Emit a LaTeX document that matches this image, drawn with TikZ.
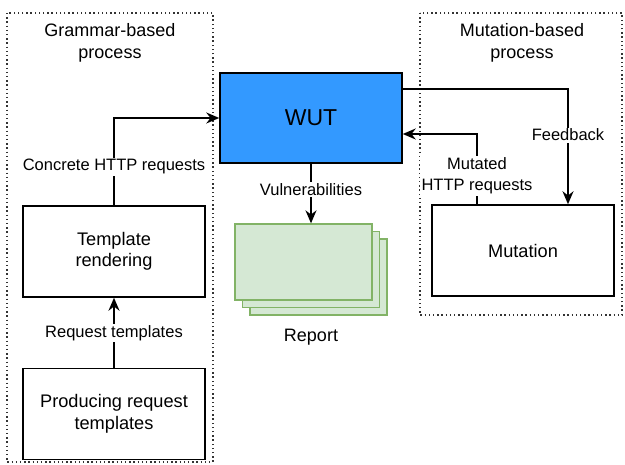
\documentclass[tikz,border=0pt]{standalone}
\usepackage{fontspec}
\setmainfont{Liberation Sans}
\usetikzlibrary{arrows.meta,shadows,calc}
\definecolor{wutblue}{RGB}{51,153,255}
\definecolor{repgreen}{RGB}{213,232,212}
\definecolor{repline}{RGB}{130,179,102}
\tikzstyle{blk} = [draw=black, line width=1.5pt, minimum width=182pt, minimum height=91pt, align=center, font=\fontsize{18.2}{21.5}\selectfont]
\tikzstyle{arrow} = [line width=1.5pt, -{Stealth[length=13pt,width=11pt]}]
\tikzstyle{lbl} = [fill=white, inner sep=1.5pt, align=center, font=\fontsize{16.5}{21}\selectfont]
\tikzstyle{title} = [lbl, font=\fontsize{18}{21.5}\selectfont]
\tikzstyle{zone} = [line width=1.4pt, dash pattern=on 1.4pt off 2.8pt, draw=black!80]

\begin{document}
\begin{tikzpicture}[x=1pt,y=-1pt]
\useasboundingbox (0,0) rectangle (625,465);
% dotted process areas
\draw[zone] (7,13) rectangle (213,462);
\draw[zone] (420,13) rectangle (622,315);
\node[title] (gtitle) at (110,43) {Grammar-based\\process};
\node[title] (mtitle) at (522,43) {Mutation-based\\process};
% boxes
\node[blk] (tmpl) at (114,251.5) {Template\\rendering};
\node[blk] (prod) at (114,414) {Producing request\\templates};
\node[blk, fill=wutblue, minimum height=90pt, font=\fontsize{23}{26}\selectfont] (wut) at (311,118) {WUT};
\node[blk] (mut) at (523,250.5) {Mutation};
\node[draw=repline, fill=repgreen, line width=1.3pt, minimum width=137pt, minimum height=76pt,
  double copy shadow={shadow xshift=7.5pt, shadow yshift=-7.5pt, draw=repline, fill=repgreen}] (rep) at (303.5,262) {};
\node[title] (replbl) at (311,337) {Report};
% connectors
\coordinate (fb) at (568,89);
\coordinate (mr) at (477,134);
\draw[arrow] (prod) -- (tmpl) node[lbl, midway] {Request templates};
\draw[arrow] (tmpl) |- (wut) node[lbl, pos=0.22] {Concrete HTTP requests};
\draw[arrow] (wut.south) -- (wut.south |- rep.north) node[lbl, pos=0.43] {Vulnerabilities};
\draw[arrow] (wut.east |- fb) -| (mut.north -| fb) node[lbl, pos=0.7] {Feedback};
\draw[arrow] (mut.north -| mr) |- (wut.east |- mr) node[lbl, pos=0.2] {Mutated\\HTTP requests};
\end{tikzpicture}
\end{document}
